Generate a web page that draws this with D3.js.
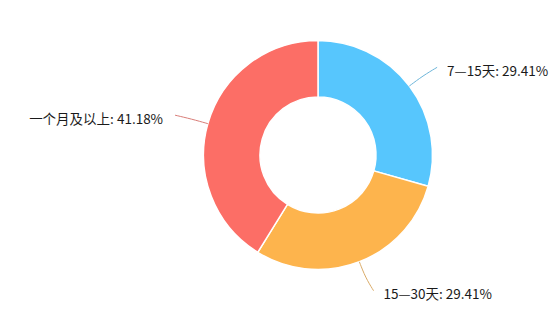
<!DOCTYPE html>
<html>
<head>
<meta charset="utf-8">
<script src="https://cdn.jsdelivr.net/npm/d3@7"></script>
<style>
  body { margin: 0; background: #fff; }
  text { font-family: "Noto Sans CJK SC", "Noto Sans", sans-serif; font-size: 13.5px; fill: #1a1a1a; }
</style>
</head>
<body>
<svg></svg>
<script>
// Set dimensions of the SVG element
const width = 560;
const height = 309;

// Chart data
const categories = ["7—15天", "15—30天", "一个月及以上"];
const counts = [5, 5, 7];
const percents = ["29.41%", "29.41%", "41.18%"];
const colors = ["#57c6fd", "#fdb44d", "#fc6e66"];

const svg = d3.select("svg")
    .attr("width", width)
    .attr("height", height);

const cx = 318, cy = 155;
const outerR = 114.5, innerR = 58;

const g = svg.append("g").attr("transform", `translate(${cx},${cy})`);

const pie = d3.pie().sort(null).value(d => d.value);
const data = pie(categories.map((c, i) => ({ name: c, value: counts[i], pct: percents[i], color: colors[i] })));

const arc = d3.arc().innerRadius(innerR).outerRadius(outerR);

// Slices
g.selectAll("path.slice")
    .data(data)
    .enter().append("path")
    .attr("class", "slice")
    .attr("d", arc)
    .attr("fill", d => d.data.color)
    .attr("stroke", "#fff")
    .attr("stroke-width", 1.5);

// point on a circle at angle a (radians, clockwise from top)
function pt(a, r) {
    return [Math.sin(a) * r, -Math.cos(a) * r];
}

// Leader lines (slightly curved)
const line = d3.line().curve(d3.curveBasis);
data.forEach(d => {
    const mid = (d.startAngle + d.endAngle) / 2;
    const right = Math.sin(mid) >= 0;
    const p0 = pt(mid, outerR);
    const p1 = pt(mid, outerR + 17);
    const p2 = pt(mid, outerR + 31);
    // bend the end a little towards the horizontal
    p2[0] += right ? 3 : -3;
    d.labelEnd = p2;
    d.right = right;
    g.append("path")
        .attr("d", line([p0, p1, p2]))
        .attr("fill", "none")
        .attr("stroke", d3.interpolateRgb(d.data.color, "#999")(0.35))
        .attr("stroke-width", 1);
});

// Labels
g.selectAll("text.label")
    .data(data)
    .enter().append("text")
    .attr("class", "label")
    .attr("x", d => d.labelEnd[0] + (d.right ? 10 : -12))
    .attr("y", d => d.labelEnd[1] + 4)
    .attr("dy", "0.35em")
    .attr("text-anchor", d => d.right ? "start" : "end")
    .text(d => d.data.name + ": " + d.data.pct);
</script>
</body>
</html>
